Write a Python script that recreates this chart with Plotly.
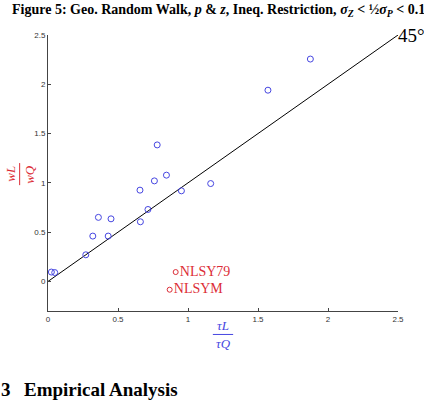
import plotly.graph_objects as go

# Data
tau_ratio = [0.024, 0.048, 0.27, 0.32, 0.36, 0.43, 0.45, 0.66, 0.657, 0.714, 0.76, 0.78,
             0.846, 0.953, 1.162, 1.571, 1.874]
w_ratio = [0.095, 0.09, 0.27, 0.46, 0.65, 0.46, 0.635, 0.605, 0.926, 0.73, 1.02, 1.385,
           1.078, 0.919, 0.993, 1.94, 2.256]
legend_names = ["NLSY79", "NLSYM"]
legend_x = [0.912, 0.869]
legend_y = [0.095, -0.084]
diag = [0, 2.5]
xticks = [0, 0.5, 1, 1.5, 2, 2.5]
yticks = [0, 0.5, 1, 1.5, 2, 2.5]

BLUE = "rgb(70,70,225)"
RED = "rgb(220,45,55)"
SERIF = "Liberation Serif, DejaVu Serif, serif"

fig = go.Figure()
fig.add_trace(go.Scatter(x=diag, y=diag, mode="lines",
                         line=dict(color="black", width=1), hoverinfo="skip"))
fig.add_trace(go.Scatter(x=tau_ratio, y=w_ratio, mode="markers",
                         marker=dict(symbol="circle-open", size=6, color=BLUE,
                                     line=dict(width=1, color=BLUE))))
fig.add_trace(go.Scatter(x=legend_x, y=legend_y, mode="markers+text",
                         text=legend_names, textposition="middle right",
                         textfont=dict(family=SERIF, size=14, color=RED),
                         marker=dict(symbol="circle-open", size=5, color=RED,
                                     line=dict(width=1, color=RED))))

annotations = [
    dict(x=2.5, y=2.5, xref="x", yref="y", text="45°", showarrow=False,
         xanchor="left", yanchor="middle", xshift=-2,
         font=dict(family=SERIF, size=19, color="black")),
    # x label fraction
    dict(x=0.5, y=-0.051, xref="paper", yref="paper", text="<i>τL</i>", showarrow=False,
         font=dict(family=SERIF, size=13, color=BLUE), yanchor="middle"),
    dict(x=0.5, y=-0.118, xref="paper", yref="paper", text="<i>τQ</i>", showarrow=False,
         font=dict(family=SERIF, size=13, color=BLUE), yanchor="middle"),
    # y label fraction (rotated)
    dict(x=-0.107, y=0.496, xref="paper", yref="paper", text="<i>wL</i>", showarrow=False,
         textangle=-90, font=dict(family=SERIF, size=13, color=RED), xanchor="center"),
    dict(x=-0.055, y=0.496, xref="paper", yref="paper", text="<i>wQ</i>", showarrow=False,
         textangle=-90, font=dict(family=SERIF, size=13, color=RED), xanchor="center"),
]

shapes = [
    dict(type="line", xref="paper", yref="paper", x0=0.471, x1=0.529, y0=-0.085, y1=-0.085,
         line=dict(color=BLUE, width=1)),
    dict(type="line", xref="paper", yref="paper", x0=-0.081, x1=-0.081, y0=0.456, y1=0.536,
         line=dict(color=RED, width=1)),
]

fig.update_layout(
    width=424, height=407,
    margin=dict(l=48, r=26, t=35, b=96),
    paper_bgcolor="white", plot_bgcolor="white",
    showlegend=False,
    annotations=annotations,
    shapes=shapes,
    xaxis=dict(range=[0, 2.5], tickvals=xticks, ticktext=[str(v) for v in xticks],
               showgrid=False, zeroline=False, showline=True, linecolor="#444", linewidth=1,
               ticks="inside", ticklen=3, tickcolor="#444",
               tickfont=dict(family="Liberation Sans, Arial, sans-serif", size=8, color="#333")),
    yaxis=dict(range=[-0.3, 2.5], tickvals=yticks, ticktext=[str(v) for v in yticks],
               showgrid=False, zeroline=False, showline=True, linecolor="#444", linewidth=1,
               ticks="inside", ticklen=3, tickcolor="#444",
               tickfont=dict(family="Liberation Sans, Arial, sans-serif", size=8, color="#333")),
)

# Page title at the top and section heading below
fig.add_annotation(x=0, y=1.0, xref="paper", yref="paper", xshift=-38, yshift=35,
                   text="<b>Figure 5: Geo. Random Walk, <i>p</i> &amp; <i>z</i>, Ineq. Restriction, <i>σ<sub>Z</sub></i> &lt; ½<i>σ<sub>P</sub></i> &lt; 0.1</b>",
                   showarrow=False, yanchor="top", xanchor="left",
                   font=dict(family=SERIF, size=14, color="black"))
fig.add_annotation(x=0, y=0, xref="paper", yref="paper", xshift=-49, yshift=-78,
                   text="<b>3</b>", showarrow=False, xanchor="left", yanchor="middle",
                   font=dict(family=SERIF, size=19, color="black"))
fig.add_annotation(x=0, y=0, xref="paper", yref="paper", xshift=-26, yshift=-78,
                   text="<b>Empirical Analysis</b>", showarrow=False, xanchor="left",
                   yanchor="middle", font=dict(family=SERIF, size=19, color="black"))

fig.write_html("out.html")
